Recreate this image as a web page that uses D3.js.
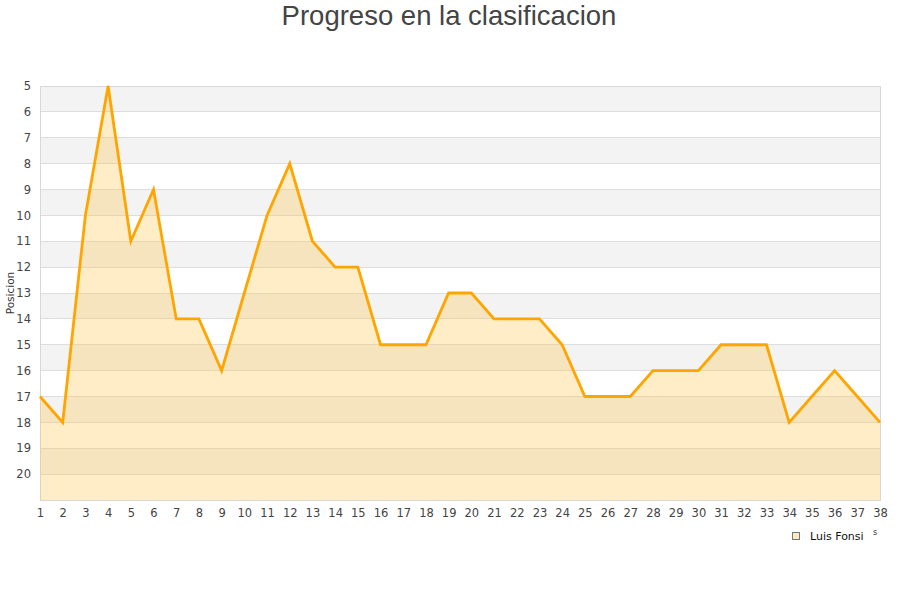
<!DOCTYPE html>
<html><head><meta charset="utf-8">
<script src="https://cdn.jsdelivr.net/npm/d3@7"></script>
<style>body{margin:0;background:#fff}</style>
</head><body><svg id="c" width="900" height="600"></svg>
<script>
const jornadas = d3.range(1, 39);
const posiciones = [17,18,10,5,11,9,14,14,16,13,10,8,11,12,12,15,15,15,13,13,14,14,14,15,17,17,17,16,16,16,15,15,15,18,17,16,17,18];
const yTicks = d3.range(5, 21);
const seriesName = "Luis Fonsi";
const title = "Progreso en la clasificacion";
const yLabel = "Posicion";

const svg = d3.select("#c");
const L = 40, R = 880, T = 86, B = 500;
const x = d3.scalePoint().domain(jornadas).range([L, R]);
const y = d3.scaleLinear().domain([5, 21]).range([T, B]);

// bands
const bands = d3.range(5, 21);
svg.append("g").selectAll("rect").data(bands).join("rect")
  .attr("x", L).attr("width", R - L)
  .attr("y", d => y(d)).attr("height", d => y(d + 1) - y(d))
  .attr("fill", (d, i) => i % 2 === 0 ? "#f3f3f3" : "#ffffff");
// grid
svg.append("g").selectAll("line").data(d3.range(5, 22)).join("line")
  .attr("x1", L).attr("x2", R).attr("y1", d => y(d)).attr("y2", d => y(d))
  .attr("stroke", "#dddddd").attr("stroke-width", 1).attr("shape-rendering", "crispEdges");
// border
svg.append("rect").attr("x", L).attr("y", T).attr("width", R - L).attr("height", B - T)
  .attr("fill", "none").attr("stroke", "#d8d8d8").attr("shape-rendering", "crispEdges");

const data = jornadas.map((j, i) => ({ j, p: posiciones[i] }));
svg.append("path").datum(data)
  .attr("d", d3.area().x(d => x(d.j)).y0(y(21)).y1(d => y(d.p)))
  .attr("fill", "rgba(255,195,70,0.3)");
svg.append("path").datum(data)
  .attr("d", d3.line().x(d => x(d.j)).y(d => y(d.p)))
  .attr("fill", "none").attr("stroke", "#ffa500").attr("stroke-width", 2.8).attr("stroke-linejoin", "miter");

// axes
const yAxis = svg.append("g").attr("transform", `translate(${L},0)`)
  .call(d3.axisLeft(y).tickValues(yTicks).tickFormat(d3.format("d")).tickSize(0).tickPadding(9));
yAxis.select(".domain").remove();
yAxis.selectAll("text").attr("font-family", "DejaVu Sans").attr("font-size", 11.5).attr("fill", "#444");

const xAxis = svg.append("g").attr("transform", `translate(0,${B})`)
  .call(d3.axisBottom(x).tickSize(0).tickPadding(9));
xAxis.select(".domain").remove();
xAxis.selectAll("text").attr("font-family", "DejaVu Sans").attr("font-size", 11.5).attr("fill", "#444");

svg.append("text").attr("x", 449).attr("y", 25).attr("text-anchor", "middle")
  .attr("font-family", "Liberation Sans, Arial").attr("font-size", 27.5).attr("fill", "#444").text(title);

svg.append("text").attr("transform", `translate(14,293) rotate(-90)`).attr("text-anchor", "middle")
  .attr("font-family", "DejaVu Sans").attr("font-size", 10.5).attr("fill", "#333").text(yLabel);

// legend
svg.append("rect").attr("x", 792.5).attr("y", 532.5).attr("width", 7).attr("height", 7)
  .attr("fill", "#fde9c4").attr("stroke", "#777").attr("stroke-width", 1);
svg.append("text").attr("x", 810).attr("y", 540).attr("font-family", "DejaVu Sans")
  .attr("font-size", 11).attr("fill", "#111").text(seriesName);
svg.append("text").attr("x", 873).attr("y", 535).attr("font-family", "DejaVu Sans")
  .attr("font-size", 8).attr("fill", "#333").text("s");
</script></body></html>
